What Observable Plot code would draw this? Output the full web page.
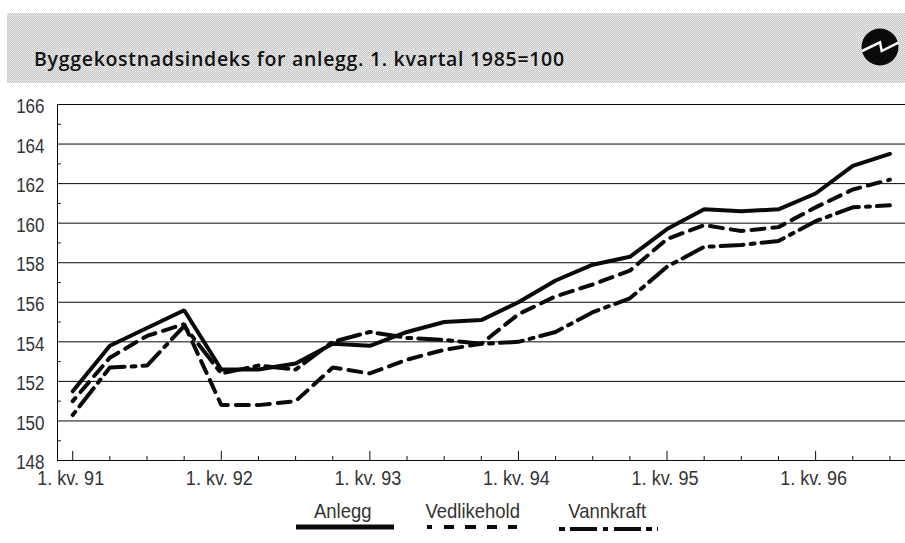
<!DOCTYPE html>
<html lang="no">
<head>
<meta charset="utf-8">
<script src="https://cdn.jsdelivr.net/npm/d3@7"></script>
<script src="https://cdn.jsdelivr.net/npm/@observablehq/plot@0.6"></script>
<style>
html,body{margin:0;padding:0;background:#fff;width:905px;height:543px;overflow:hidden}
#wrap{position:relative;width:905px;height:543px}
#band{position:absolute;left:7px;top:13px;width:898px;height:70px;background:repeating-conic-gradient(#c4c4c4 0 25%,#ececec 0 50%) 0 0/2px 2px}
#title{position:absolute;left:34px;top:45px;font:600 19.5px/27px "Open Sans",sans-serif;letter-spacing:.7px;color:#111;white-space:nowrap}
#logo{position:absolute;left:861px;top:28px}
#chart{position:absolute;left:0;top:0}
.lg{position:absolute;text-align:center;font:21px "Liberation Sans",sans-serif;color:#333;line-height:22px;white-space:nowrap}
.lg span{display:inline-block;transform:scaleX(.88);transform-origin:50% 50%}
.lg svg{position:absolute;left:0;display:block}
</style>
</head>
<body>
<div id="wrap">
  <div id="band"></div>
  <div id="title">Byggekostnadsindeks for anlegg. 1. kvartal 1985=100</div>
  <svg id="logo" width="38" height="38" viewBox="0 0 38 38"><circle cx="19" cy="19" r="18.5" fill="#0a0a0a"/><polyline points="1,23 19,14.3 20.7,23 38,14.3" fill="none" stroke="#fff" stroke-width="2.5"/></svg>
  <div id="chart"></div>
</div>
<script>
const quarters = ["1. kv. 91","2. kv. 91","3. kv. 91","4. kv. 91","1. kv. 92","2. kv. 92","3. kv. 92","4. kv. 92","1. kv. 93","2. kv. 93","3. kv. 93","4. kv. 93","1. kv. 94","2. kv. 94","3. kv. 94","4. kv. 94","1. kv. 95","2. kv. 95","3. kv. 95","4. kv. 95","1. kv. 96","2. kv. 96","3. kv. 96"];
const anlegg = [151.5,153.8,154.7,155.6,152.6,152.6,152.9,153.9,153.8,154.5,155.0,155.1,156.0,157.1,157.9,158.3,159.7,160.7,160.6,160.7,161.5,162.9,163.5];
const vedlikehold = [151.0,153.2,154.3,154.9,150.8,150.8,151.0,152.7,152.4,153.1,153.6,153.9,155.4,156.3,156.9,157.6,159.2,159.9,159.6,159.8,160.8,161.7,162.2];
const vannkraft = [150.3,152.7,152.8,154.8,152.4,152.8,152.6,154.0,154.5,154.2,154.1,153.9,154.0,154.5,155.5,156.2,157.8,158.8,158.9,159.1,160.1,160.8,160.9];
const names = ["Anlegg","Vedlikehold","Vannkraft"];
const dashes = ["none","13,8","4,7,23,7"];
const dashOffsets = [0,9,0];
const yMajor = d3.range(148,167,2);
const yMinor = d3.range(149,166,2);

const idx = quarters.map((_,i)=>i);
const major = idx.filter(i=>quarters[i].startsWith("1."));
const minor = idx.filter(i=>!quarters[i].startsWith("1."));
const font = '"Liberation Sans",sans-serif';
const ink = "#0a0a0a";
const series = [anlegg,vedlikehold,vannkraft];

const plot = Plot.plot({
  width:905, height:543,
  marginLeft:57, marginRight:0, marginTop:104, marginBottom:83,
  style:{background:"transparent",fontFamily:font,fontSize:"21px",color:"#333",overflow:"visible"},
  x:{domain:[-0.41,22.42],label:null},
  y:{domain:[148,166],label:null},
  marks:[
    Plot.ruleY(yMajor,{stroke:ink,strokeWidth:1}),
    Plot.ruleX([-0.41],{y1:148,y2:166,stroke:ink,strokeWidth:1}),
    Plot.ruleX(major,{y1:148,y2:148.46,stroke:ink,strokeWidth:1}),
    Plot.ruleX(minor,{y1:148,y2:148.2,stroke:ink,strokeWidth:1}),
    Plot.ruleY(yMinor,{x1:-0.41,x2:-0.31,stroke:ink,strokeWidth:1}),
    ...series.map((s,k)=>Plot.line(idx,{x:i=>i,y:i=>s[i],stroke:ink,strokeWidth:4,strokeDasharray:dashes[k],strokeDashoffset:dashOffsets[k],strokeLinejoin:"miter",curve:"linear"})),
    Plot.axisY({ticks:yMajor,tickSize:0,tickPadding:13,label:null,dy:2,tickFormat:d=>d,fill:"#333"}),
    Plot.axisX({ticks:major,tickSize:0,tickPadding:10,label:null,dx:-2,tickFormat:i=>quarters[i],fill:"#333"})
  ]
});
document.getElementById("chart").appendChild(plot);

// narrow the axis lettering to the condensed look of the original
function squeeze(selector,k){
  plot.querySelectorAll(selector).forEach(t=>{
    const tr=t.getAttribute("transform")||"";
    t.setAttribute("transform",tr+` scale(${k},1)`);
  });
}
squeeze('g[aria-label="y-axis tick label"] text',.81);
squeeze('g[aria-label="x-axis tick label"] text',.86);

// legend under the plot
const wrap = document.getElementById("wrap");
const lgBox = [[296,98,527],[427,90,527],[559,99,529]];
const lgShift = [-2,-4,-1];
const lgDash = [null,"5,12,10,11,11,11,10,11,10","6,5,27,6,5,6,27,5,6,5,2"];
names.forEach((n,k)=>{
  const [left,w,lineY]=lgBox[k];
  const d=document.createElement("div");
  d.className="lg";
  d.style.left=left+"px"; d.style.width=w+"px"; d.style.top="500px";
  const lab=document.createElement("span"); lab.textContent=n; lab.style.marginLeft=(2*lgShift[k])+"px"; d.appendChild(lab);
  const s=d3.create("svg").attr("width",w).attr("height",8).style("top",(lineY-4-500)+"px");
  s.append("line").attr("x1",0).attr("x2",w).attr("y1",4).attr("y2",4).attr("stroke",ink).attr("stroke-width",k===0?5:4).attr("stroke-dasharray",lgDash[k]);
  d.appendChild(s.node());
  wrap.appendChild(d);
});
</script>
</body>
</html>
